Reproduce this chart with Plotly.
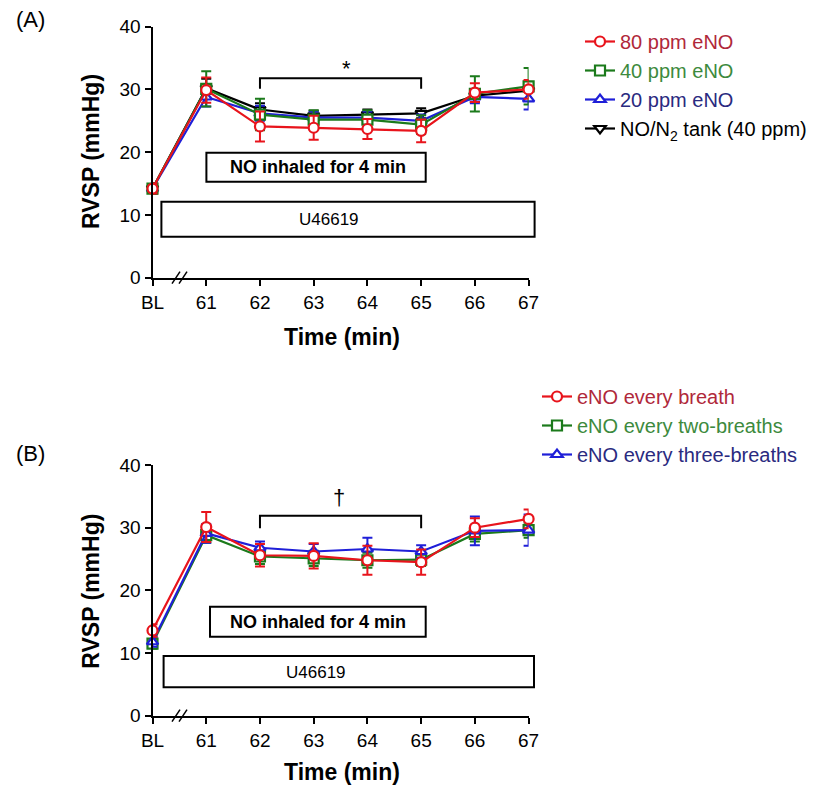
import plotly.graph_objects as go

W, H = 814, 789

# ---------------- data ----------------
time_pos = [60, 61, 62, 63, 64, 65, 66, 67]
tick_text = ["BL", "61", "62", "63", "64", "65", "66", "67"]
y_ticks = [0, 10, 20, 30, 40]

# Panel A
a_80 = [14.2, 29.9, 24.1, 23.9, 23.7, 23.4, 29.5, 30.0]
a_80_err = [0.8, 2.0, 2.4, 1.9, 1.6, 1.8, 1.5, 1.5]
a_40 = [14.2, 30.1, 26.0, 25.2, 25.2, 24.4, 29.3, 30.5]
a_40_err = [0.8, 2.8, 2.5, 1.5, 1.5, 1.5, 2.8, 2.9]
a_20 = [14.2, 28.8, 26.2, 25.5, 25.5, 25.0, 28.8, 28.5]
a_20_err = [0.8, 1.5, 1.2, 1.0, 1.0, 1.0, 1.0, 1.7]
a_tank = [14.2, 30.2, 26.8, 25.8, 26.0, 26.2, 29.0, 29.8]
a_tank_err = [0.8, 1.5, 1.0, 0.8, 0.8, 0.8, 1.0, 1.5]

# Panel B
b_1 = [13.6, 30.1, 25.6, 25.5, 24.8, 24.5, 30.0, 31.4]
b_1_err = [1.0, 2.4, 1.8, 2.0, 2.3, 2.0, 1.5, 1.5]
b_2 = [11.5, 28.8, 25.4, 25.1, 24.8, 24.9, 29.0, 29.6]
b_2_err = [0.8, 1.2, 1.2, 1.2, 1.2, 1.0, 1.2, 1.2]
b_3 = [11.8, 29.1, 26.8, 26.2, 26.6, 26.2, 29.5, 29.6]
b_3_err = [0.8, 1.5, 1.0, 1.2, 1.8, 1.0, 2.3, 2.5]

RED, GREEN, BLUE, BLACK = "#e8141c", "#1b7a1b", "#1f1fd8", "#000000"
RED_T, GREEN_T, BLUE_T = "#b0283a", "#3d8a3d", "#2a2a80"
FONT = "Arial, Liberation Sans, sans-serif"

fig = go.Figure()


def add(x, y, err, color, symbol, name, xa, ya, legend, rank):
    fig.add_trace(go.Scatter(
        x=x, y=y, mode="lines+markers", name=name,
        xaxis=xa, yaxis=ya, legend=legend, legendrank=rank, legendgroup=name,
        line=dict(color=color, width=2.2),
        marker=dict(symbol=symbol, size=10, color="white", line=dict(color=color, width=2.2)),
        error_y=dict(type="data", array=err, color=color, thickness=2, width=5),
        cliponaxis=False,
    ))


# Panel A (draw black first, red last)
add(time_pos, a_tank, a_tank_err, BLACK, "triangle-down",
    "NO/N<sub>2</sub> tank (40 ppm)", "x", "y", "legend", 4)
add(time_pos, a_20, a_20_err, BLUE, "triangle-up",
    f"<span style='color:{BLUE_T}'>20 ppm eNO</span>", "x", "y", "legend", 3)
add(time_pos, a_40, a_40_err, GREEN, "square",
    f"<span style='color:{GREEN_T}'>40 ppm eNO</span>", "x", "y", "legend", 2)
add(time_pos, a_80, a_80_err, RED, "circle",
    f"<span style='color:{RED_T}'>80 ppm eNO</span>", "x", "y", "legend", 1)

# Panel B
add(time_pos, b_2, b_2_err, GREEN, "square",
    f"<span style='color:{GREEN_T}'>eNO every two-breaths</span>", "x2", "y2", "legend2", 2)
add(time_pos, b_3, b_3_err, BLUE, "triangle-up",
    f"<span style='color:{BLUE_T}'>eNO every three-breaths</span>", "x2", "y2", "legend2", 3)
add(time_pos, b_1, b_1_err, RED, "circle",
    f"<span style='color:{RED_T}'>eNO every breath</span>", "x2", "y2", "legend2", 1)


def px_x(p):
    return p / W


def px_y(p):
    return 1 - p / H


xdom = [px_x(152.5), px_x(528.6)]
axis_common = dict(showline=True, linecolor="black", linewidth=2, ticks="outside",
                   ticklen=6, tickwidth=2, tickcolor="black", showgrid=False, zeroline=False,
                   tickfont=dict(family=FONT, size=19, color="black"))
xa = dict(axis_common, domain=xdom, range=[time_pos[0], time_pos[-1]],
          tickvals=time_pos, ticktext=tick_text)
ya = dict(axis_common, range=[y_ticks[0], y_ticks[-1]], tickvals=y_ticks)

leg_font = dict(family=FONT, size=20, color="black")
fig.update_layout(
    width=W, height=H, margin=dict(l=0, r=0, t=0, b=0, autoexpand=False),
    paper_bgcolor="white", plot_bgcolor="white",
    font=dict(family=FONT, color="black"),
    xaxis=dict(xa, anchor="y"),
    yaxis=dict(ya, anchor="x", domain=[px_y(277.7), px_y(26.7)]),
    xaxis2=dict(xa, anchor="y2"),
    yaxis2=dict(ya, anchor="x2", domain=[px_y(715.7), px_y(465)]),
    legend=dict(x=px_x(580), y=px_y(22), xanchor="left", yanchor="top", tracegroupgap=0,
                font=leg_font, bgcolor="rgba(0,0,0,0)"),
    legend2=dict(x=px_x(537), y=px_y(377), xanchor="left", yanchor="top", tracegroupgap=0,
                 font=leg_font, bgcolor="rgba(0,0,0,0)"),
)

shapes = []
annotations = []
panels = [
    dict(xr="x", yr="y", box_u=(161.4, 201.7, 534.6, 236.7), u_txt=(329, 219),
         box_no=(206.4, 152.7, 425.7, 181.7), no_txt=(318, 167),
         brk=(31.8, 30.1), star="*", star_pos=(346.4, 68), label="(A)", label_y=20,
         title_y=336.7, ytitle_y=152, axis0=277.7),
    dict(xr="x2", yr="y2", box_u=(163.6, 656, 534, 687.3), u_txt=(316, 672.5),
         box_no=(210, 606.7, 425.7, 636.7), no_txt=(318, 622),
         brk=(31.9, 29.9), star="\u2020", star_pos=(339, 497), label="(B)", label_y=453,
         title_y=771.7, ytitle_y=591.7, axis0=715.7),
]


def note(x, y, text, size, **kw):
    return dict(xref="paper", yref="paper", x=px_x(x), y=px_y(y), xanchor="center",
                yanchor="middle", text=text, showarrow=False,
                font=dict(size=size, family=FONT, color="black"), **kw)


for p in panels:
    for (x0, y0, x1, y1) in (p["box_u"], p["box_no"]):
        shapes.append(dict(type="rect", xref="paper", yref="paper",
                           x0=px_x(x0), y0=px_y(y1), x1=px_x(x1), y1=px_y(y0),
                           line=dict(color="black", width=2), fillcolor="white", layer="below"))
    brk = p["brk"]
    shapes.append(dict(type="path", xref=p["xr"], yref=p["yr"],
                       path=f"M 62,{brk[1]} L 62,{brk[0]} L 65,{brk[0]} L 65,{brk[1]}",
                       line=dict(color="black", width=2)))
    a0 = p["axis0"]
    for dx in (0, 7):
        shapes.append(dict(type="line", xref="paper", yref="paper",
                           x0=px_x(172 + dx), y0=px_y(a0 + 6), x1=px_x(180 + dx), y1=px_y(a0 - 6),
                           line=dict(color="black", width=1.5)))
    annotations += [
        note(*p["u_txt"], "U46619", 17),
        note(*p["no_txt"], "<b>NO inhaled for 4 min</b>", 18),
        note(*p["star_pos"], p["star"], 22),
        note(30, p["label_y"], p["label"], 22),
        note(342, p["title_y"], "<b>Time (min)</b>", 23),
        note(91, p["ytitle_y"], "<b>RVSP (mmHg)</b>", 23, textangle=-90),
    ]

fig.update_layout(shapes=shapes, annotations=annotations)
fig.write_html("out.html", config={"displayModeBar": False},
               post_script="document.body.style.margin='0px';")
